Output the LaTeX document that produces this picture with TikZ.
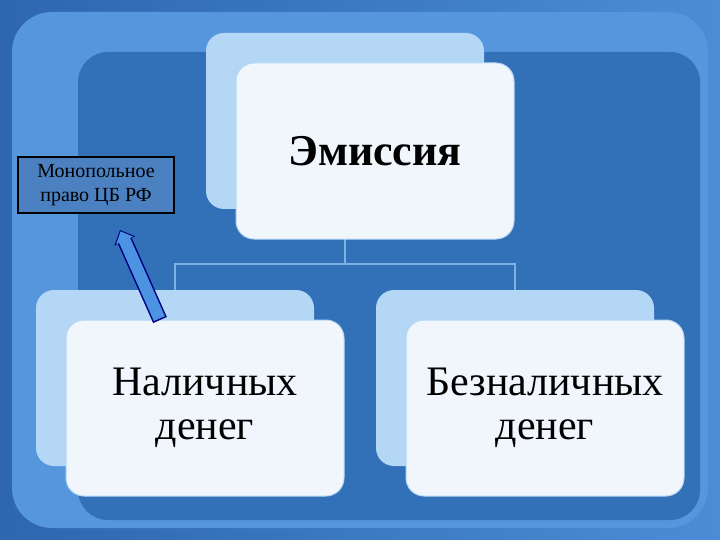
\documentclass[tikz,border=0pt]{standalone}
\usepackage{fontspec}
\setmainfont{Liberation Serif}
\usetikzlibrary{arrows.meta}
\definecolor{bgA}{HTML}{2E66B0}
\definecolor{bgB}{HTML}{4A8DD6}
\definecolor{frameC}{HTML}{5596DC}
\definecolor{innerC}{HTML}{3270B8}
\definecolor{backC}{HTML}{B5D7F6}
\definecolor{frontC}{HTML}{F0F6FC}
\definecolor{lineC}{HTML}{7FB2E4}
\definecolor{arrC}{HTML}{4C94E2}
\tikzset{
  backbox/.style={fill=backC, rounded corners=18pt, minimum width=278pt, minimum height=176pt, inner sep=0pt},
  frontbox/.style={fill=frontC, draw=backC, line width=1pt, rounded corners=18pt, minimum width=278pt, minimum height=176pt, inner sep=0pt, align=center, font=\fontsize{42}{44}\selectfont},
  conn/.style={lineC, line width=2.5pt},
}
\begin{document}
\begin{tikzpicture}[x=1pt,y=-1pt]
\useasboundingbox (0,0) rectangle (720,540);
\shade[left color=bgA, right color=bgB] (0,0) rectangle (720,540);
\fill[frameC, rounded corners=40pt] (12,12) rectangle (708,528);
\fill[innerC, rounded corners=30pt] (78,52) rectangle (700,520);
% back boxes
\node[backbox] (eb) at (345,121) {};
\node[backbox] (lb) at (175,378) {};
\node[backbox] (rb) at (515,378) {};
% connectors
\draw[conn] (345,210) -- (345,264) coordinate (mid);
\draw[conn] (mid) -| (lb.north);
\draw[conn] (mid) -| (rb.north);
% front boxes
\node[frontbox, font=\fontsize{44}{46}\selectfont\bfseries] (ef) at (375,151) {Эмиссия};
\node[frontbox] (lf) at (205,408) {Наличных\\денег};
\node[frontbox] (rf) at (545,408) {Безналичных\\денег};
% monopoly box
\node[draw=black, line width=1.5pt, minimum width=156pt, minimum height=56pt, align=center, font=\fontsize{20}{24}\selectfont, fill=innerC!88!white] (mono) at (96,185) {Монопольное\\право ЦБ РФ};
\coordinate (astart) at (160,320);
\coordinate (aend) at (120,230);
\draw[line width=15pt, -{Triangle[width=22pt,length=12pt]}, blue!50!black] (astart) -- (aend);
\draw[line width=12pt, shorten <=1.5pt, shorten >=1.5pt, -{Triangle[width=18pt,length=10pt]}, arrC] (astart) -- (aend);
\end{tikzpicture}
\end{document}
